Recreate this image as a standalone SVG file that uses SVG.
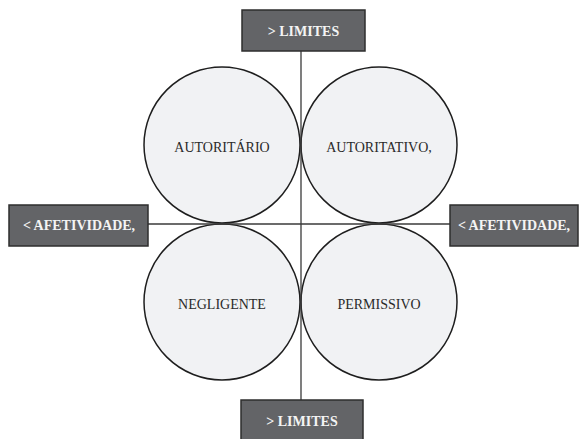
<svg xmlns="http://www.w3.org/2000/svg" width="580" height="439" viewBox="0 0 580 439">
  <style>
    .bg { fill: #ffffff; }
    .circle { fill: #f1f2f4; stroke: #1e1e1e; stroke-width: 1.5; }
    .circle-label { font-family: "Liberation Serif", "Times New Roman", serif; font-size: 14px; fill: #2a2a2a; text-anchor: middle; }
    .box { fill: #636467; stroke: #2e2e2e; stroke-width: 1.5; }
    .box-label { font-family: "Liberation Serif", "Times New Roman", serif; font-size: 14px; font-weight: bold; fill: #f4f4f4; text-anchor: middle; }
    .axis { stroke: #3a3a3a; stroke-width: 1.3; fill: none; }
  </style>

  <rect class="bg" x="0" y="0" width="580" height="439"/>

  <!-- quadrant styles -->
  <g id="node-autoritario">
    <circle class="circle" cx="222" cy="145" r="78"/>
    <text class="circle-label" x="222" y="152">AUTORITÁRIO</text>
  </g>
  <g id="node-autoritativo">
    <circle class="circle" cx="379" cy="145" r="78"/>
    <text class="circle-label" x="379" y="152">AUTORITATIVO,</text>
  </g>
  <g id="node-negligente">
    <circle class="circle" cx="222" cy="302" r="78"/>
    <text class="circle-label" x="222" y="309">NEGLIGENTE</text>
  </g>
  <g id="node-permissivo">
    <circle class="circle" cx="379" cy="302" r="78"/>
    <text class="circle-label" x="379" y="309">PERMISSIVO</text>
  </g>

  <!-- axes -->
  <g id="connectors">
    <line class="axis" x1="301" y1="51" x2="301" y2="400"/>
    <line class="axis" x1="148" y1="224" x2="450" y2="224"/>
  </g>

  <!-- axis end labels -->
  <g id="node-limites-top">
    <rect class="box" x="242" y="10" width="123" height="41"/>
    <text class="box-label" x="303.5" y="36">&gt; LIMITES</text>
  </g>
  <g id="node-limites-bottom">
    <rect class="box" x="241" y="400" width="122" height="42"/>
    <text class="box-label" x="302" y="426">&gt; LIMITES</text>
  </g>
  <g id="node-afetividade-left">
    <rect class="box" x="9" y="205" width="139" height="41"/>
    <text class="box-label" x="79" y="230">&lt; AFETIVIDADE,</text>
  </g>
  <g id="node-afetividade-right">
    <rect class="box" x="450" y="205" width="128" height="41"/>
    <text class="box-label" x="514" y="230">&lt; AFETIVIDADE,</text>
  </g>
</svg>
